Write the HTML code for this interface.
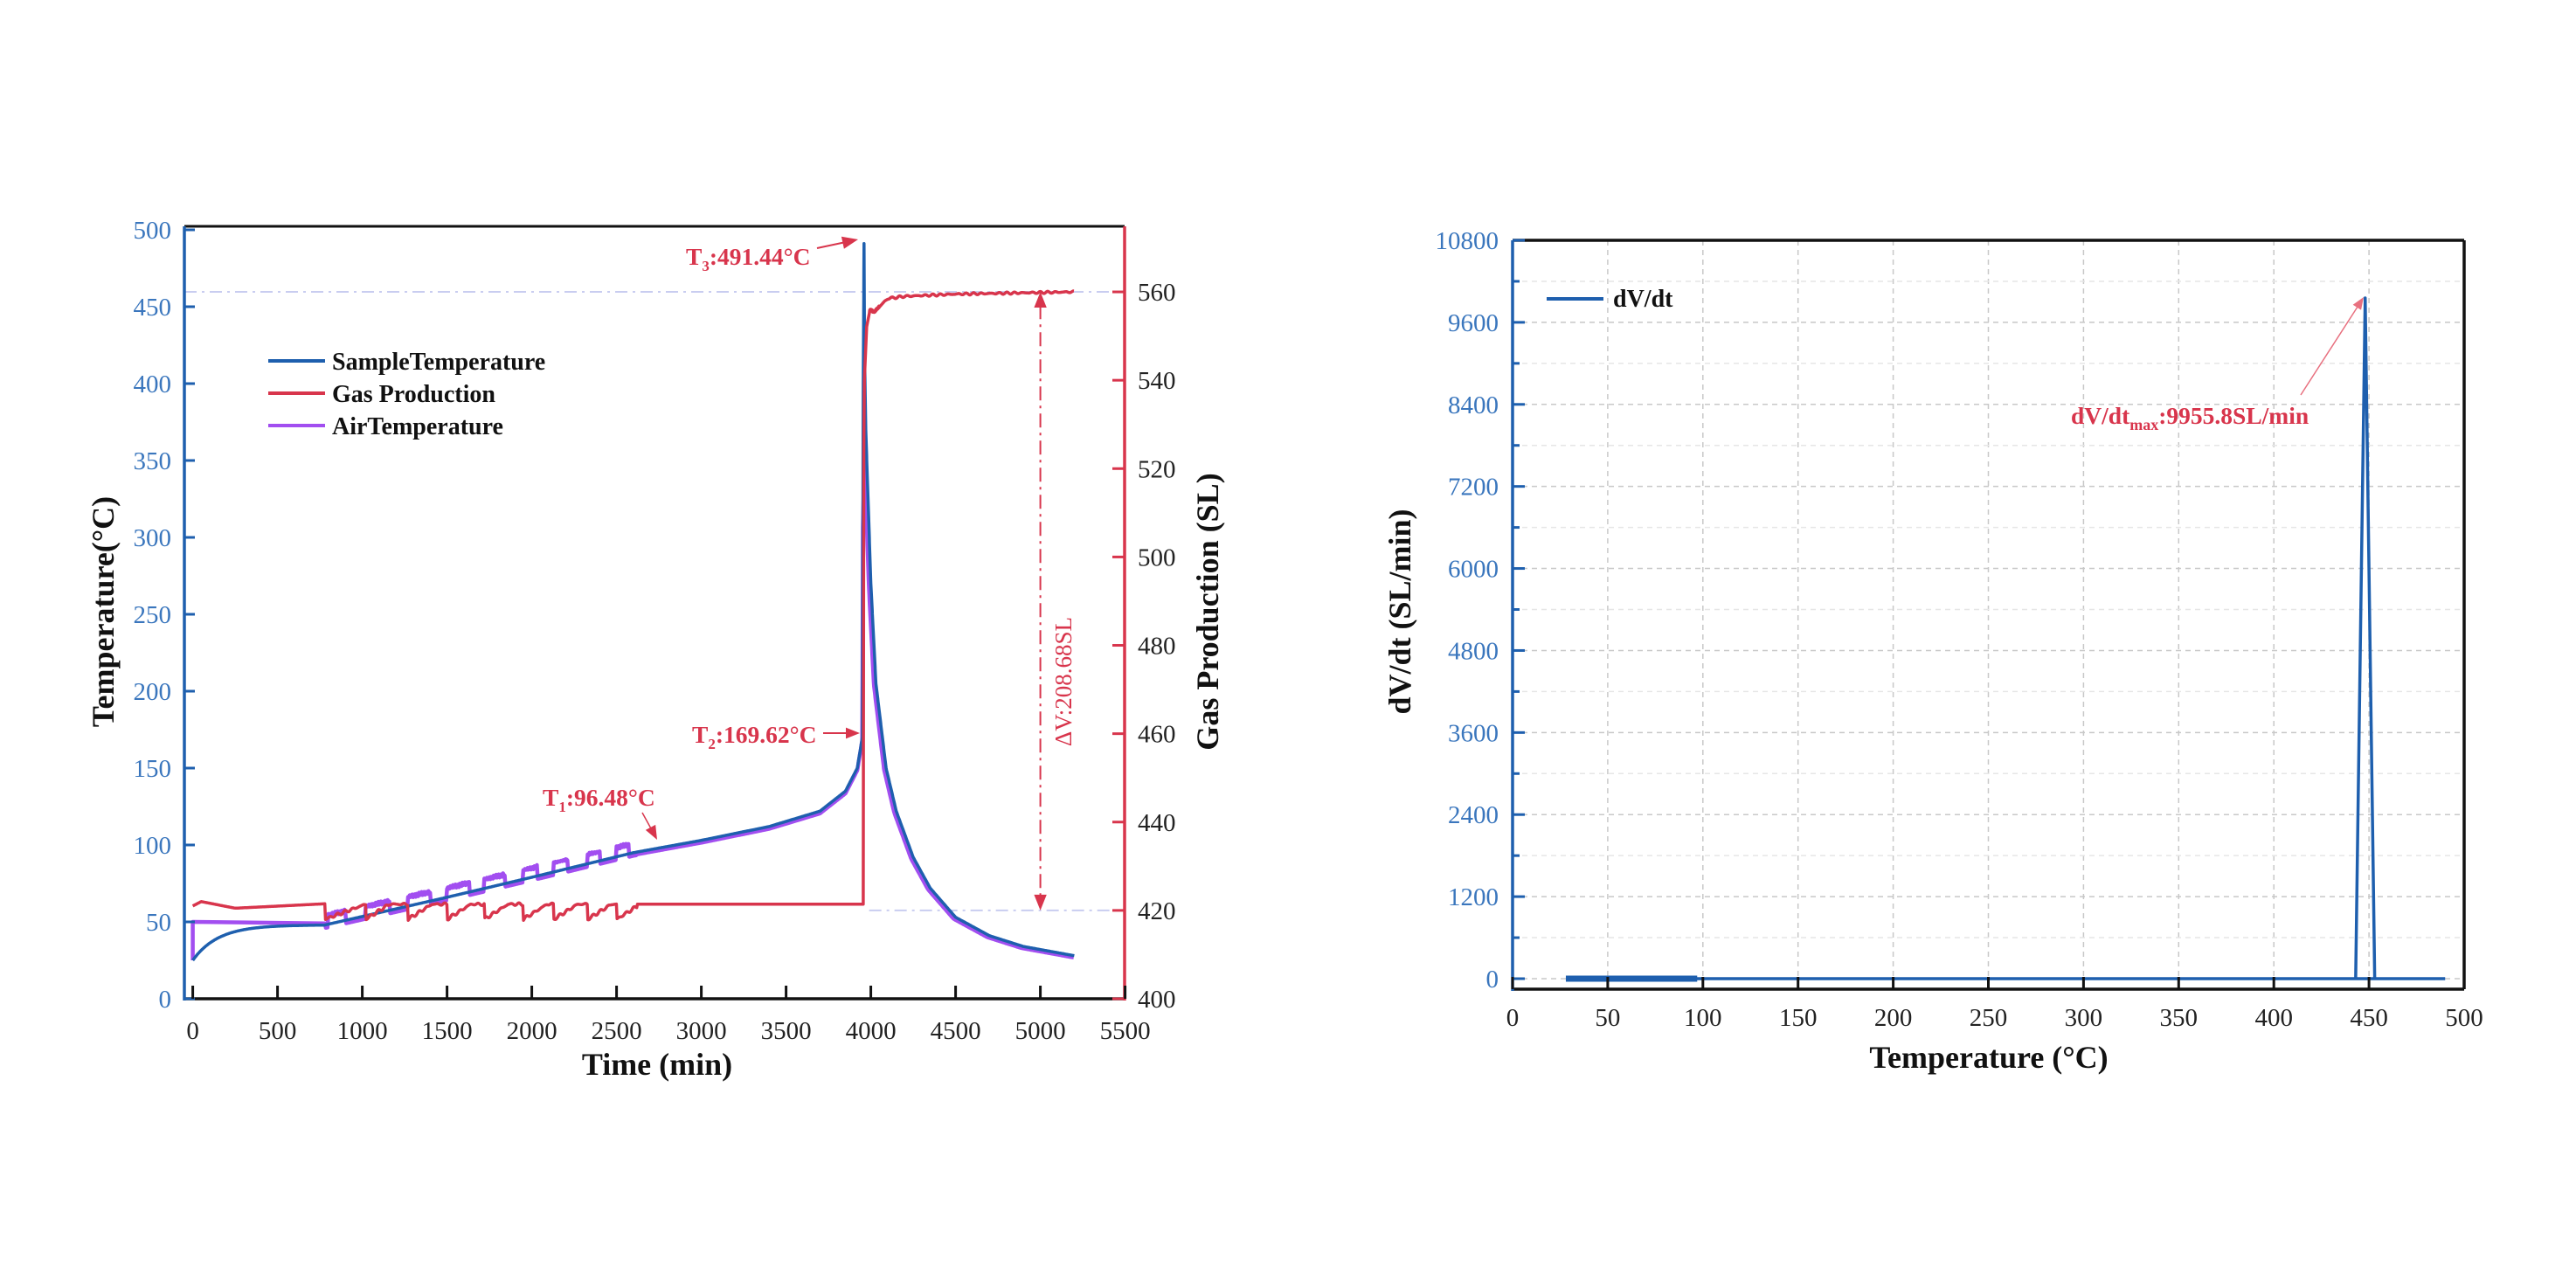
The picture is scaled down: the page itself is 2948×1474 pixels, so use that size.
<!DOCTYPE html>
<html><head><meta charset="utf-8">
<style>
html,body{margin:0;padding:0;background:#fff;}
svg{display:block;}
text{font-family:"Liberation Serif",serif;}
.tb{fill:#3a76bd;font-size:29px;}
.tk{fill:#222;font-size:29px;}
.ti{fill:#111;font-size:36px;font-weight:bold;}
.lg{fill:#111;font-size:28px;font-weight:bold;}
.an{fill:#d8354c;font-size:27.5px;font-weight:bold;}
</style></head>
<body>
<svg id="s" width="2948" height="1474" viewBox="0 0 2948 1474" xmlns="http://www.w3.org/2000/svg">
<rect width="2948" height="1474" fill="#fff"/>
<g id="L"></g>
<g id="R"></g>
<text class="ti" transform="translate(130,700) rotate(-90)" text-anchor="middle">Temperature(°C)</text>
<text class="ti" transform="translate(1394,700) rotate(-90)" text-anchor="middle">Gas Production (SL)</text>
<text class="ti" x="752" y="1230" text-anchor="middle">Time (min)</text>
<text class="lg" x="380" y="423">SampleTemperature</text>
<text class="lg" x="380" y="460">Gas Production</text>
<text class="lg" x="380" y="497">AirTemperature</text>
<text class="an" x="785" y="303">T<tspan font-size="17" dy="7">3</tspan><tspan dy="-7">:491.44°C</tspan></text>
<text class="an" x="792" y="850">T<tspan font-size="17" dy="7">2</tspan><tspan dy="-7">:169.62°C</tspan></text>
<text class="an" x="621" y="922">T<tspan font-size="17" dy="7">1</tspan><tspan dy="-7">:96.48°C</tspan></text>
<text transform="translate(1226,780) rotate(-90)" text-anchor="middle" fill="#d8354c" font-size="27" font-family="Liberation Serif,serif">ΔV:208.68SL</text>
<text class="ti" font-size="37" transform="translate(1614,700) rotate(-90)" text-anchor="middle">dV/dt (SL/min)</text>
<text class="ti" x="2276" y="1222" text-anchor="middle">Temperature (°C)</text>
<text class="lg" x="1846" y="351">dV/dt</text>
<text class="an" font-size="30" x="2370" y="485">dV/dt<tspan font-size="18" dy="7">max</tspan><tspan dy="-7">:9955.8SL/min</tspan></text>
</svg>
<script>
var NS="http://www.w3.org/2000/svg";
function el(p,n,a,txt){var e=document.createElementNS(NS,n);for(var k in a)e.setAttribute(k,a[k]);if(txt!==undefined)e.textContent=txt;document.getElementById(p).appendChild(e);return e;}
var X=function(t){return 220.6+t*0.194;};
var YT=function(T){return 1143-T*1.76;};
var YG=function(v){return 1143-(v-400)*5.056;};
var L=211,Rr=1287,T0=259,B=1143;
el("L","line",{x1:L,y1:YG(560),x2:Rr,y2:YG(560),stroke:"#c9cdf0","stroke-width":2,"stroke-dasharray":"14 6 3 6"});
el("L","line",{x1:X(3990),y1:YG(420),x2:Rr,y2:YG(420),stroke:"#c9cdf0","stroke-width":2,"stroke-dasharray":"14 6 3 6"});
function interp(pts,t){for(var i=0;i<pts.length-1;i++){if(t<=pts[i+1][0]){var a=pts[i],b=pts[i+1];return a[1]+(b[1]-a[1])*(t-a[0])/(b[0]-a[0]);}}return pts[pts.length-1][1];}
var sp=[[780,48],[1500,66],[2000,79],[2600,95],[3000,103],[3400,112],[3700,122],[3850,135],[3920,150],[3950,170],[3955,400],[3960,491],[3963,420],[3970,370],[3985,320],[4000,270],[4030,205],[4090,150],[4150,122],[4250,92],[4350,72],[4500,53],[4700,41],[4900,34],[5200,28]];
function sample(t){if(t<780)return 25+23*(1-Math.exp(-t/150));return interp(sp,t);}
var boxes=[[800,900],[1020,1160],[1270,1400],[1500,1630],[1720,1840],[1950,2030],[2130,2210],[2330,2400],[2500,2570]];
function inBox(t){for(var i=0;i<boxes.length;i++)if(t>=boxes[i][0]&&t<=boxes[i][1])return i;return -1;}
function nz(t,a){return a*(Math.sin(t*1.7)*0.6+Math.sin(t*3.3+1)*0.4);}
var d="M"+X(0)+","+YT(25)+" L"+X(0)+","+YT(50)+" L"+X(780)+","+YT(49);
for(var t=785;t<=5200;t+=(t>3900&&t<4100)?2:5){var v;var b=inBox(t);
 if(t<2620){v=sample(t)+(b>=0?6+nz(t,1.2):-2);} else if(t<3955){v=sample(t)-1.5;}
 else if(t<3962){continue;} else {v=sample(t+12)-1;}
 d+=" L"+X(t).toFixed(1)+","+YT(v).toFixed(1);}
el("L","path",{d:d,fill:"none",stroke:"#a24ef0","stroke-width":4.5,"stroke-linejoin":"round"});
d="M"+X(0)+","+YT(25);
for(var t=2;t<=5200;t+=(t>3900&&t<4100)?1:5){d+=" L"+X(t).toFixed(1)+","+YT(sample(t)).toFixed(1);}
el("L","path",{d:d,fill:"none",stroke:"#1e5fae","stroke-width":3.5,"stroke-linejoin":"round"});
function gas(t){
 if(t<780){if(t<50)return 421+t/50;if(t<250)return 422-1.5*(t-50)/200;return 420.5+1*(t-250)/530;}
 if(t<3955){if(t>2620)return 421.4;var lastStart=0;for(var i=0;i<boxes.length;i++)if(t>=boxes[i][0])lastStart=i;
   var s=(lastStart==0?780:boxes[lastStart][0]);var ramp=(lastStart==0?240:140);
   var f=Math.min(1,Math.max(0,(t-s)/ramp));return 418+3.4*f+nz(t,0.35);}
 return interp([[3955,421.4],[3958,520],[3962,540],[3975,552],[3995,556],[4020,555.5],[4060,557],[4100,558.5],[4200,559],[4500,559.5],[5200,560]],t)+(t>3990?nz(t,0.25):0);
}
d="M"+X(0)+","+YG(421);
for(var t=3;t<=5200;t+=(t>3940&&t<4050)?1:4){d+=" L"+X(t).toFixed(1)+","+YG(gas(t)).toFixed(1);}
el("L","path",{d:d,fill:"none",stroke:"#d8354c","stroke-width":3.5,"stroke-linejoin":"round"});
el("L","line",{x1:X(5000),y1:YG(557),x2:X(5000),y2:YG(423),stroke:"#d8354c","stroke-width":2,"stroke-dasharray":"16 6 3 6"});
function arrowHead(g,x,y,ang,c,s){var a=ang*Math.PI/180;s=s||16;var p=[[x,y],[x-s*Math.cos(a)+s*0.4*Math.sin(a),y-s*Math.sin(a)-s*0.4*Math.cos(a)],[x-s*Math.cos(a)-s*0.4*Math.sin(a),y-s*Math.sin(a)+s*0.4*Math.cos(a)]];el(g,"polygon",{points:p.map(function(q){return q.join(",")}).join(" "),fill:c});}
arrowHead("L",X(5000),YG(560),-90,"#d8354c",18);
arrowHead("L",X(5000),YG(420),90,"#d8354c",18);
el("L","line",{x1:935,y1:284,x2:968,y2:277,stroke:"#d8354c","stroke-width":2});arrowHead("L",982,274,-12,"#d8354c",18);
el("L","line",{x1:942,y1:839,x2:970,y2:839,stroke:"#d8354c","stroke-width":2});arrowHead("L",984,839,0,"#d8354c",16);
el("L","line",{x1:735,y1:930,x2:746,y2:950,stroke:"#d8354c","stroke-width":1.5});arrowHead("L",752,961,62,"#d8354c",16);
el("L","line",{x1:307,y1:413,x2:372,y2:413,stroke:"#1e5fae","stroke-width":4});
el("L","line",{x1:307,y1:450,x2:372,y2:450,stroke:"#d8354c","stroke-width":4});
el("L","line",{x1:307,y1:487,x2:372,y2:487,stroke:"#a24ef0","stroke-width":4});
el("L","line",{x1:L,y1:T0,x2:Rr,y2:T0,stroke:"#111","stroke-width":3});
el("L","line",{x1:L,y1:B,x2:Rr,y2:B,stroke:"#111","stroke-width":3.5});
el("L","line",{x1:L,y1:T0,x2:L,y2:B+2,stroke:"#1e5fae","stroke-width":3.5});
el("L","line",{x1:Rr,y1:T0,x2:Rr,y2:B+2,stroke:"#d8354c","stroke-width":3.5});
for(var v=0;v<=500;v+=50){var y=YT(v);el("L","line",{x1:L,y1:y,x2:L+12,y2:y,stroke:"#1e5fae","stroke-width":3});el("L","text",{x:196,y:y+10,"class":"tb","text-anchor":"end"},String(v));}
for(var v=400;v<=560;v+=20){var y=YG(v);el("L","line",{x1:Rr-14,y1:y,x2:Rr,y2:y,stroke:"#d8354c","stroke-width":3});el("L","text",{x:1302,y:y+10,"class":"tk","text-anchor":"start"},String(v));}
for(var t=0;t<=5500;t+=500){var x=X(t);el("L","line",{x1:x,y1:B,x2:x,y2:B-15,stroke:"#111","stroke-width":3});el("L","text",{x:x,y:1189,"class":"tk","text-anchor":"middle"},String(t));}
var RX=function(T){return 1731+T*2.178;};
var RY=function(v){return 1120-v*845/10800;};
var l2=1731,r2=2820,t2=275,b2=1132;
for(var T=50;T<500;T+=50)el("R","line",{x1:RX(T),y1:t2,x2:RX(T),y2:b2,stroke:"#c8c8c8","stroke-width":1.5,"stroke-dasharray":"6 5"});
for(var v=0;v<10800;v+=600){el("R","line",{x1:l2,y1:RY(v),x2:r2,y2:RY(v),stroke:(v%1200==0?"#c8c8c8":"#e6e6e6"),"stroke-width":1.5,"stroke-dasharray":"6 5"});}
el("R","line",{x1:RX(28),y1:RY(0),x2:RX(490),y2:RY(0),stroke:"#1e5fae","stroke-width":3.5});
el("R","line",{x1:RX(28),y1:RY(0),x2:RX(97),y2:RY(0),stroke:"#1e5fae","stroke-width":7});
el("R","path",{d:"M"+RX(443)+","+RY(0)+" L"+RX(448)+","+RY(9955.8)+" L"+RX(453)+","+RY(0),fill:"none",stroke:"#1e5fae","stroke-width":3.5,"stroke-linejoin":"round"});
el("R","line",{x1:2633,y1:452,x2:2700,y2:348,stroke:"#e8707f","stroke-width":1.5});arrowHead("R",2705,340,-57,"#e8707f",14);
el("R","line",{x1:1770,y1:342,x2:1835,y2:342,stroke:"#1e5fae","stroke-width":4});
el("R","line",{x1:l2,y1:t2,x2:r2,y2:t2,stroke:"#111","stroke-width":3.5});
el("R","line",{x1:l2,y1:b2,x2:r2,y2:b2,stroke:"#111","stroke-width":3.5});
el("R","line",{x1:r2,y1:t2,x2:r2,y2:b2,stroke:"#111","stroke-width":3.5});
el("R","line",{x1:l2,y1:t2,x2:l2,y2:b2+2,stroke:"#1e5fae","stroke-width":3.5});
for(var v=0;v<=10800;v+=600){var y=RY(v);var maj=v%1200==0;el("R","line",{x1:l2,y1:y,x2:l2+(maj?14:8),y2:y,stroke:"#1e5fae","stroke-width":3});if(maj)el("R","text",{x:1715,y:y+10,"class":"tb","text-anchor":"end"},String(v));}
for(var T=0;T<=500;T+=50){var x=RX(T);el("R","line",{x1:x,y1:b2,x2:x,y2:b2-14,stroke:"#111","stroke-width":3});el("R","text",{x:x,y:1174,"class":"tk","text-anchor":"middle"},String(T));}
</script>
</body></html>
